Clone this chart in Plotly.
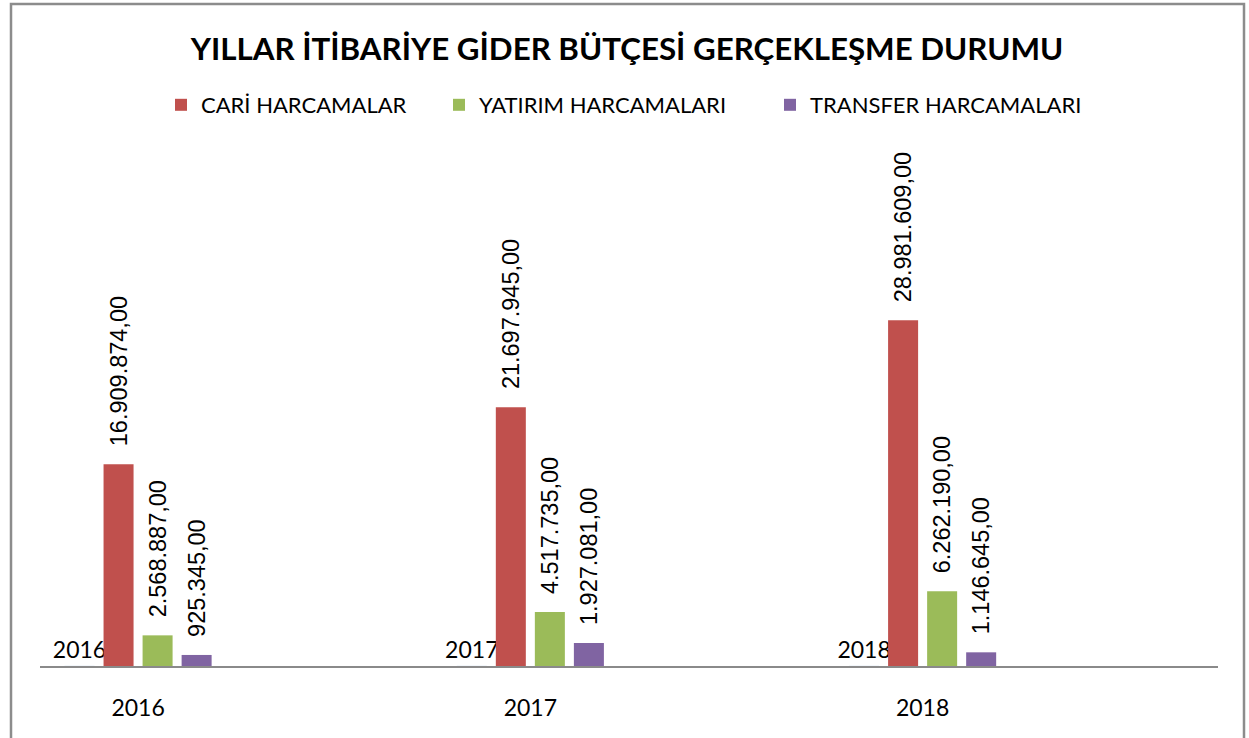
import plotly.graph_objects as go

years = ["2016", "2017", "2018"]
year_values = [2016, 2017, 2018]
cari = [16909874.00, 21697945.00, 28981609.00]
yatirim = [2568887.00, 4517735.00, 6262190.00]
transfer = [925345.00, 1927081.00, 1146645.00]

series_names = ["CARİ HARCAMALAR", "YATIRIM HARCAMALARI", "TRANSFER HARCAMALARI"]
colors = ["#C0504D", "#9BBB59", "#8064A2"]

W, H = 1249, 738
L, R, T, B = 40, 1218, 140, 666


def fmt_tr(v):
    s = f"{v:,.2f}"
    s = s.replace(",", "X").replace(".", ",").replace("X", ".")
    return "\u00a0\u00a0\u200a" + s


def px_x(p):
    return (p - L) / (R - L)


def px_y(p):
    return (B - p) / (B - T)


fig = go.Figure()

# year series (tiny bars, labelled with the year)
fig.add_trace(go.Bar(
    x=years, y=year_values, name="YIL",
    marker=dict(color="rgba(0,0,0,0)"),
    text=[str(v) for v in year_values], textposition="outside", textangle=0,
    constraintext="none",
    textfont=dict(family="Lato", size=23, color="#000000"),
    cliponaxis=False, showlegend=False, hoverinfo="skip",
))

legend_ids = ["legend", "legend2", "legend3"]
for name, vals, col, lg in zip(series_names, [cari, yatirim, transfer], colors, legend_ids):
    fig.add_trace(go.Bar(
        x=years, y=vals, name=name,
        marker=dict(color=col, line=dict(width=0)),
        text=[fmt_tr(v) for v in vals], textposition="outside", textangle=-90,
        constraintext="none",
        textfont=dict(family="Liberation Sans", size=23.5, color="#000000"),
        cliponaxis=False, legend=lg,
    ))

legend_x = [161, 439, 770]
legend_common = dict(orientation="h", xanchor="left", yanchor="middle",
                     y=px_y(105), font=dict(family="Lato", size=22, color="#000000"),
                     bgcolor="rgba(0,0,0,0)", borderwidth=0)

fig.update_layout(
    width=W, height=H,
    margin=dict(l=L, r=W - R, t=T, b=H - B, pad=0),
    paper_bgcolor="white", plot_bgcolor="white",
    barmode="group", bargap=0.602, bargroupgap=0.231,
    title=dict(text="<b>YILLAR İTİBARİYE GİDER BÜTÇESİ GERÇEKLEŞME DURUMU</b>",
               x=627 / W, xanchor="center", y=1 - 49 / H, yanchor="middle",
               font=dict(family="Lato", size=31.3, color="#000000")),
    legend=dict(x=px_x(legend_x[0]), **legend_common),
    legend2=dict(x=px_x(legend_x[1]), **legend_common),
    legend3=dict(x=px_x(legend_x[2]), **legend_common),
    xaxis=dict(type="category", range=[-0.25, 2.753], showgrid=False, zeroline=False,
               showline=True, linecolor="#8A8A8A", linewidth=1.5,
               ticks="outside", ticklen=21, tickcolor="rgba(0,0,0,0)",
               tickfont=dict(family="Lato", size=23, color="#000000")),
    yaxis=dict(range=[0, 44.09e6], showgrid=False, zeroline=False, showline=False,
               showticklabels=False, ticks=""),
    shapes=[dict(type="rect", xref="paper", yref="paper",
                 x0=px_x(11), x1=px_x(1244), y0=px_y(745), y1=px_y(4),
                 line=dict(color="#8C8C8C", width=2.5), fillcolor="rgba(0,0,0,0)",
                 layer="below")],
)

fig.write_html("out.html")
